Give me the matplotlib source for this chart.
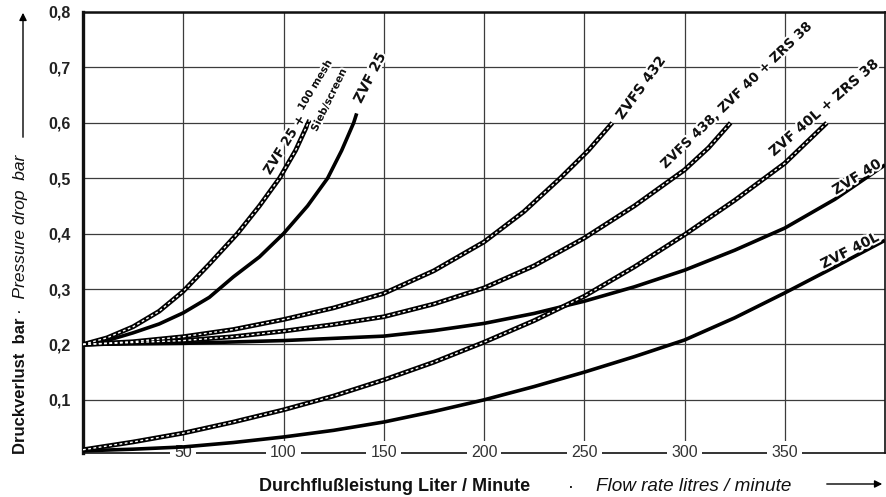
import matplotlib.pyplot as plt
import matplotlib.patheffects as pe
import matplotlib.transforms as mtransforms

plt.rcParams['font.family'] = ['Liberation Sans', 'DejaVu Sans']

# ---- data (flow l/min, pressure drop bar) ----
zvf25_mesh_x = [0, 12, 25, 38, 50, 63, 77, 88, 98, 106, 113]
zvf25_mesh_y = [0.200, 0.212, 0.232, 0.260, 0.296, 0.345, 0.400, 0.450, 0.500, 0.550, 0.605]

zvf25_x = [0, 12, 25, 38, 50, 63, 75, 88, 100, 112, 122, 129, 135, 136.5]
zvf25_y = [0.200, 0.207, 0.221, 0.237, 0.257, 0.285, 0.322, 0.358, 0.400, 0.450, 0.500,
           0.550, 0.600, 0.617]

zvfs432_x = [0, 25, 50, 75, 100, 125, 150, 175, 200, 220, 238, 252, 264]
zvfs432_y = [0.200, 0.205, 0.214, 0.227, 0.245, 0.266, 0.292, 0.333, 0.385, 0.440,
             0.500, 0.550, 0.600]

zvfs438_x = [0, 50, 75, 100, 125, 150, 175, 200, 225, 250, 275, 300, 312, 323]
zvfs438_y = [0.200, 0.207, 0.214, 0.224, 0.236, 0.250, 0.273, 0.302, 0.342, 0.392,
             0.450, 0.515, 0.555, 0.600]

zvf40l_zrs_x = [0, 25, 50, 75, 100, 125, 150, 175, 200, 225, 250, 275, 300, 325, 350, 371]
zvf40l_zrs_y = [0.010, 0.024, 0.040, 0.060, 0.082, 0.107, 0.136, 0.168, 0.204, 0.243,
                0.287, 0.340, 0.398, 0.460, 0.527, 0.600]

zvf40_x = [0, 50, 100, 125, 150, 175, 200, 225, 250, 275, 300, 325, 350, 375, 400]
zvf40_y = [0.200, 0.202, 0.207, 0.211, 0.215, 0.225, 0.238, 0.256, 0.278, 0.304, 0.334,
           0.370, 0.410, 0.462, 0.524]

zvf40l_x = [0, 25, 50, 75, 100, 125, 150, 175, 200, 225, 250, 275, 300, 325, 350, 375, 400]
zvf40l_y = [0.008, 0.011, 0.015, 0.023, 0.033, 0.045, 0.060, 0.079, 0.100, 0.124, 0.150,
            0.178, 0.208, 0.248, 0.293, 0.340, 0.388]

x_ticks = [50, 100, 150, 200, 250, 300, 350]
y_ticks = [0.1, 0.2, 0.3, 0.4, 0.5, 0.6, 0.7, 0.8]
y_tick_labels = ['0,1', '0,2', '0,3', '0,4', '0,5', '0,6', '0,7', '0,8']

fig = plt.figure(figsize=(8.87, 4.97), dpi=100)
ax = fig.add_axes([83 / 887, 1 - 452.5 / 497, 802 / 887, 440.5 / 497])
ax.set_xlim(0, 400)
ax.set_ylim(0.005, 0.8)

ax.set_xticks(x_ticks)
ax.set_xticklabels([])
ax.set_yticks(y_ticks)
ax.set_yticklabels(y_tick_labels, fontweight='bold', fontsize=11.5, color='#222222')
ax.tick_params(length=0)
ax.tick_params(axis='y', pad=9)
ax.grid(color='#3c3c3c', linewidth=0.9)
ax.set_axisbelow(True)

ax.spines['left'].set_linewidth(2.4)
ax.spines['top'].set_linewidth(1.8)
ax.spines['right'].set_linewidth(1.2)
ax.spines['bottom'].set_linewidth(1.2)
for s in ax.spines.values():
    s.set_color('#111111')

# x tick labels sit on the bottom line, interrupting it
trans = mtransforms.blended_transform_factory(ax.transData, ax.transAxes)
for v in x_ticks:
    ax.text(v, 0, str(v), transform=trans, ha='center', va='center', fontsize=11.5,
            color='#333333', zorder=3,
            bbox=dict(facecolor='white', edgecolor='none', pad=3))


def dashed(x, y):
    ax.plot(x, y, color='black', lw=3.4, zorder=4, solid_capstyle='butt',
            solid_joinstyle='round')
    ax.plot(x, y, color='white', lw=1.0, dashes=(2, 1.8), zorder=5)


def solid(x, y):
    ax.plot(x, y, color='black', lw=2.6, zorder=4, solid_capstyle='butt',
            solid_joinstyle='round')


dashed(zvf25_mesh_x, zvf25_mesh_y)
solid(zvf25_x, zvf25_y)
dashed(zvfs432_x, zvfs432_y)
dashed(zvfs438_x, zvfs438_y)
dashed(zvf40l_zrs_x, zvf40l_zrs_y)
solid(zvf40_x, zvf40_y)
solid(zvf40l_x, zvf40l_y)

# curve labels
halo = [pe.withStroke(linewidth=3, foreground='white')]


def label(x, y, s, rot, size=10):
    ax.text(x, y, s, rotation=rot, rotation_mode='anchor', ha='center', va='center',
            fontsize=size, fontweight='bold', family='DejaVu Sans', color='#111111',
            zorder=6, path_effects=halo)


label(100.7, 0.560, 'ZVF 25 +', 58, 9.5)
label(115.7, 0.668, '100 mesh', 59, 7.5)
label(122.7, 0.641, 'Sieb/screen', 64, 7.5)
label(143.1, 0.681, 'ZVF 25', 63, 10)
label(278.3, 0.663, 'ZVFS 432', 54, 10)
label(326.2, 0.650, 'ZVFS 438, ZVF 40 + ZRS 38', 44, 9.5)
label(369.6, 0.627, 'ZVF 40L + ZRS 38', 41, 10)
label(386.0, 0.502, 'ZVF 40', 32, 10)
label(382.5, 0.369, 'ZVF 40L', 27, 10)

# axis titles
fig.text(259 / 887, 1 - 491 / 497, 'Durchflußleistung Liter / Minute', fontsize=13,
         fontweight='bold', ha='left', va='baseline', color='#111111')
fig.text(571 / 887, 1 - 487 / 497, '·', fontsize=13, ha='center', va='center')
fig.text(596 / 887, 1 - 491 / 497, 'Flow rate litres / minute', fontsize=13.6,
         style='italic', ha='left', va='baseline', color='#111111')

ylab1 = fig.text(25 / 887, 1 - 454 / 497, 'Druckverlust  bar', fontsize=12,
                 fontweight='bold', rotation=90, rotation_mode='anchor',
                 ha='left', va='baseline', color='#111111')
fig.canvas.draw()
bb = ylab1.get_window_extent(fig.canvas.get_renderer())
fig.text(25 / 887, (bb.y1 + 4) / 497, '·  Pressure drop  bar', fontsize=12.5,
         style='italic', rotation=90, rotation_mode='anchor',
         ha='left', va='baseline', color='#111111')

ax.annotate('', xy=(885 / 887, 1 - 484 / 497), xytext=(824 / 887, 1 - 484 / 497),
            xycoords='figure fraction', textcoords='figure fraction',
            arrowprops=dict(arrowstyle='-|>', lw=1.0, color='black', mutation_scale=11))
ax.annotate('', xy=(23 / 887, 1 - 10 / 497), xytext=(23 / 887, 1 - 140 / 497),
            xycoords='figure fraction', textcoords='figure fraction',
            arrowprops=dict(arrowstyle='-|>', lw=1.0, color='black', mutation_scale=11))

fig.savefig('out.png', dpi=100, facecolor='white')
